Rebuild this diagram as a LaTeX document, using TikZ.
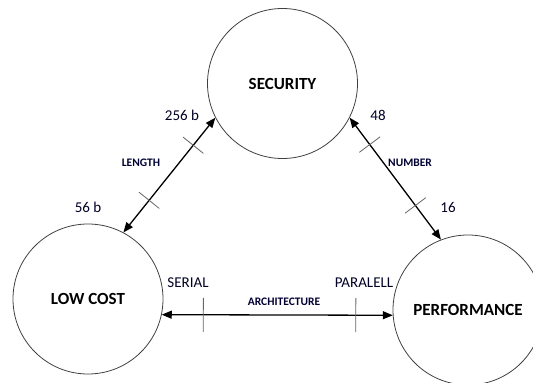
\documentclass[tikz,border=0pt]{standalone}
\usepackage{fontspec}
\setmainfont{Carlito}
\usetikzlibrary{arrows.meta}
\usetikzlibrary{calc}

\tikzset{
    goal/.style={circle, draw=black!75, line width=0.8pt, minimum size=150pt, inner sep=0pt, font=\fontsize{17}{20}\selectfont\bfseries},
    link/.style={<->, line width=1.3pt},
    tickline/.style={draw=black!60, line width=0.8pt},
    val/.style={font=\fontsize{15}{18}\selectfont, text=black!85!blue},
    topic/.style={font=\fontsize{11.5}{14}\selectfont\bfseries, text=black!80!blue}
}

\begin{document}
\begin{tikzpicture}[x=1pt, y=-1pt, >={Triangle[length=10pt, width=8pt]}]
        \useasboundingbox (0,0) rectangle (533,383);

        % Goals
        \node[goal] (sec) at (282.5,83.5) {SECURITY};
        \node[goal] (cost) at (88,299) {LOW COST};
        \node[goal] (perf) at (468,310) {PERFORMANCE};

        % Length: low cost <-> security
        \draw[link] (cost.62) -- (sec.207);
        \foreach \t in {0.28,0.76} {
            \draw[tickline] ($(cost.62)!\t!(sec.207)!13pt!90:(sec.207)$) -- ($(cost.62)!\t!(sec.207)!13pt!-90:(sec.207)$);
        }
        \node[val] (b256) at (182,115) {256 b};
        \node[topic] (len) at (141,163) {LENGTH};
        \node[val] (b56) at (88,207) {56 b};

        % Number: security <-> performance
        \draw[link] (sec.333) -- (perf.111);
        \foreach \t in {0.22,0.72} {
            \draw[tickline] ($(sec.333)!\t!(perf.111)!13pt!90:(perf.111)$) -- ($(sec.333)!\t!(perf.111)!13pt!-90:(perf.111)$);
        }
        \node[val] (n48) at (378,115) {48};
        \node[topic] (num) at (410,163) {NUMBER};
        \node[val] (n16) at (448,207) {16};

        % Architecture: low cost <-> performance
        \draw[link] (cost.348) -- (perf.184);
        \foreach \t in {0.18,0.84} {
            \draw[tickline] ($(cost.348)!\t!(perf.184)!17pt!90:(perf.184)$) -- ($(cost.348)!\t!(perf.184)!17pt!-90:(perf.184)$);
        }
        \node[val] (ser) at (188,283) {SERIAL};
        \node[topic] (arch) at (284,302) {ARCHITECTURE};
        \node[val] (par) at (364,283) {PARALELL};

\end{tikzpicture}
\end{document}
